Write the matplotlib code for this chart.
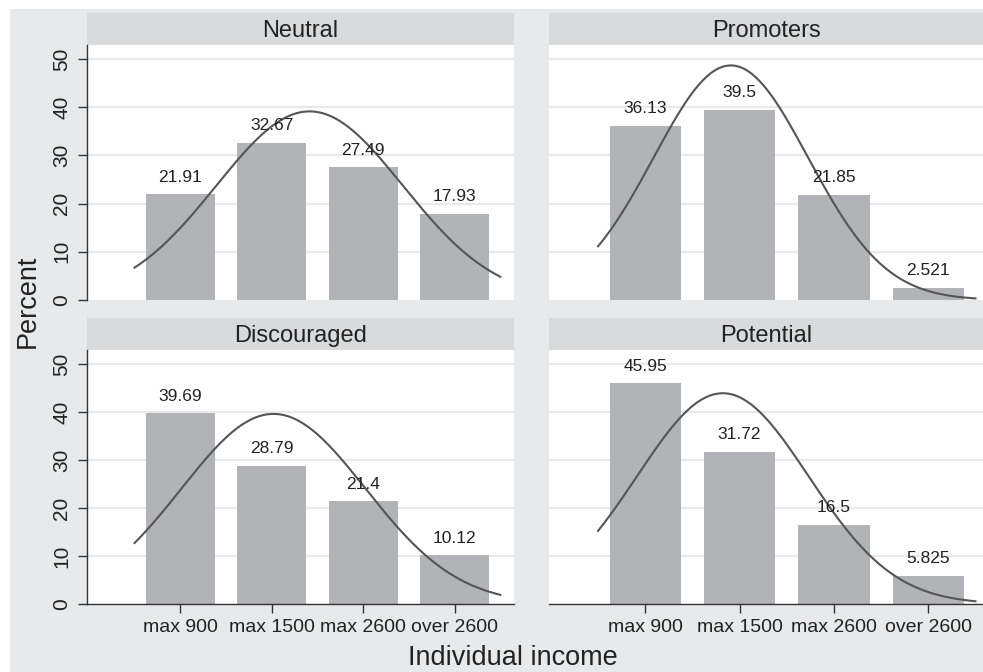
import numpy as np
import matplotlib
matplotlib.use("Agg")
import matplotlib.pyplot as plt
from matplotlib.patches import Rectangle

plt.rcParams["font.family"] = ["Liberation Sans", "DejaVu Sans"]

categories = ["max 900", "max 1500", "max 2600", "over 2600"]
groups = ["Neutral", "Promoters", "Discouraged", "Potential"]
neutral = [21.91, 32.67, 27.49, 17.93]
promoters = [36.13, 39.5, 21.85, 2.521]
discouraged = [39.69, 28.79, 21.4, 10.12]
potential = [45.95, 31.72, 16.5, 5.825]
labels_text = {
    "Neutral": ["21.91", "32.67", "27.49", "17.93"],
    "Promoters": ["36.13", "39.5", "21.85", "2.521"],
    "Discouraged": ["39.69", "28.79", "21.4", "10.12"],
    "Potential": ["45.95", "31.72", "16.5", "5.825"],
}
values = {"Neutral": neutral, "Promoters": promoters,
          "Discouraged": discouraged, "Potential": potential}

W, H = 983, 672
OUTER = "#e8e9eb"
STRIP = "#d9dadc"
BAR = "#b2b3b7"
GRID = "#e9e9eb"
DARK = "#333333"


def px_box(x0, y0, x1, y1):
    # pixel box (top-left origin) -> figure fraction rect
    return [x0 / W, 1 - y1 / H, (x1 - x0) / W, (y1 - y0) / H]


fig = plt.figure(figsize=(W / 100, H / 100), dpi=100)
fig.patches.append(Rectangle((10 / W, 0), 1 - 10 / W, 1 - 9 / H,
                             transform=fig.transFigure, facecolor=OUTER,
                             edgecolor="none", zorder=-10))

# panel layout: (plot box, strip box, is_left, is_bottom, xlim right)
layout = {
    "Neutral": ((87, 45, 514, 300), (87, 13, 514, 45), True, False, 4.65),
    "Promoters": ((549, 45, 983, 300), (549, 13, 983, 45), False, False, 4.58),
    "Discouraged": ((87, 350, 514, 604), (87, 318, 514, 350), True, True, 4.65),
    "Potential": ((549, 350, 983, 604), (549, 318, 983, 350), False, True, 4.58),
}

pos = np.arange(1, len(categories) + 1)
xs = np.linspace(0.5, 4.5, 200)

for name in groups:
    pbox, sbox, is_left, is_bottom, xr = layout[name]
    vals = np.array(values[name])

    sax = fig.add_axes(px_box(*sbox))
    sax.set_facecolor(STRIP)
    sax.set_xticks([])
    sax.set_yticks([])
    for sp in sax.spines.values():
        sp.set_visible(False)
    sax.text(0.5, 0.45, name, ha="center", va="center", fontsize=17,
             color="#222222", transform=sax.transAxes)

    ax = fig.add_axes(px_box(*pbox))
    ax.set_facecolor("white")
    ax.set_xlim(-0.02, xr)
    ax.set_ylim(0, 52.9)
    for y in range(10, 60, 10):
        ax.axhline(y, color=GRID, lw=1.6, zorder=0)

    ax.bar(pos, vals, width=0.755, color=BAR, zorder=2)
    for x, v, t in zip(pos, vals, labels_text[name]):
        ax.annotate(t, (x, v), xytext=(0, 7), textcoords="offset points",
                    ha="center", va="bottom", fontsize=12.5, color="#222222",
                    zorder=4)

    # normal density fitted to the discrete distribution, in percent
    mu = np.sum(pos * vals) / vals.sum()
    sd = np.sqrt(np.sum((pos - mu) ** 2 * vals) / vals.sum())
    dens = 100 / (sd * np.sqrt(2 * np.pi)) * np.exp(-0.5 * ((xs - mu) / sd) ** 2)
    ax.plot(xs, dens, color="#555555", lw=1.5, zorder=3)

    for sp in ["top", "right"]:
        ax.spines[sp].set_visible(False)
    ax.spines["left"].set_visible(is_left)
    ax.spines["bottom"].set_visible(is_bottom)
    for sp in ["left", "bottom"]:
        ax.spines[sp].set_color(DARK)
        ax.spines[sp].set_linewidth(1.0)

    if is_left:
        ax.set_yticks(range(0, 60, 10))
        ax.set_yticklabels([str(v) for v in range(0, 60, 10)], rotation=90,
                           va="center", fontsize=15, color="#222222")
        ax.tick_params(axis="y", direction="out", length=6.5, width=1.0,
                       color=DARK, pad=5)
    else:
        ax.set_yticks([])

    if is_bottom:
        ax.set_xticks(pos)
        ax.set_xticklabels(categories, fontsize=14, color="#222222")
        ax.tick_params(axis="x", direction="out", length=6.5, width=1.0,
                       color=DARK, pad=4)
    else:
        ax.set_xticks([])

fig.text(28 / W, 1 - 301 / H, "Percent", rotation=90, ha="center",
         va="center", fontsize=19.5, color="#222222")
fig.text(513 / W, 1 - 658 / H, "Individual income", ha="center",
         va="center", fontsize=19.5, color="#222222")

fig.savefig("out.png", dpi=100, facecolor="white")
